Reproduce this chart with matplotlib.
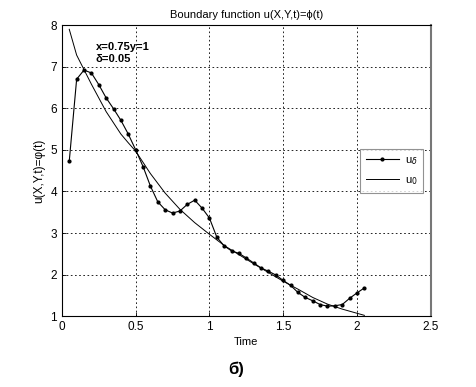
import numpy as np
import matplotlib
matplotlib.use('Agg')
from matplotlib import pyplot as plt

plt.rcParams['font.family'] = ['Liberation Sans', 'DejaVu Sans']

# u_delta: sampled every 0.05 in time
t_delta = [0.05, 0.10, 0.15, 0.20, 0.25, 0.30, 0.35, 0.40, 0.45, 0.50,
           0.55, 0.60, 0.65, 0.70, 0.75, 0.80, 0.85, 0.90, 0.95, 1.00,
           1.05, 1.10, 1.15, 1.20, 1.25, 1.30, 1.35, 1.40, 1.45, 1.50,
           1.55, 1.60, 1.65, 1.70, 1.75, 1.80, 1.85, 1.90, 1.95, 2.00, 2.05]
u_delta = [4.73, 6.70, 6.92, 6.85, 6.57, 6.25, 5.99, 5.71, 5.38, 5.00,
           4.60, 4.13, 3.75, 3.56, 3.48, 3.53, 3.69, 3.79, 3.60, 3.36,
           2.90, 2.69, 2.57, 2.51, 2.40, 2.28, 2.16, 2.08, 1.99, 1.86,
           1.74, 1.57, 1.45, 1.37, 1.28, 1.24, 1.25, 1.28, 1.43, 1.56, 1.68]

# u_0: exact boundary function
t_0 = [0.05, 0.10, 0.15, 0.20, 0.30, 0.40, 0.45, 0.50, 0.55, 0.60, 0.70,
       0.80, 0.90, 1.00, 1.10, 1.20, 1.30, 1.40, 1.50, 1.60, 1.70,
       1.80, 1.90, 2.00, 2.05]
u_0 = [7.90, 7.28, 6.93, 6.58, 5.92, 5.38, 5.17, 4.97, 4.70, 4.43, 3.96,
       3.57, 3.25, 2.97, 2.70, 2.48, 2.26, 2.05, 1.84, 1.65, 1.45,
       1.29, 1.17, 1.07, 1.02]

fig = plt.figure(figsize=(4.76, 3.87), dpi=100)
ax = fig.add_axes([0.130, 0.183, 0.775, 0.752])

ax.plot(t_delta, u_delta, color='black', lw=0.8, marker='.', ms=4, label=r'u$_\delta$')
ax.plot(t_0, u_0, color='black', lw=0.7, label=r'u$_0$')

ax.set_xlim(0, 2.5)
ax.set_ylim(1, 8)
ax.set_xticks([0, 0.5, 1, 1.5, 2, 2.5])
ax.set_xticklabels(['0', '0.5', '1', '1.5', '2', '2.5'])
ax.set_yticks(range(1, 9))
ax.grid(True, color='black', linestyle=(0, (2, 3)), lw=0.6)
ax.tick_params(labelsize=8.5, direction='in', length=3, width=0.6)
for s in ax.spines.values():
    s.set_linewidth(0.8)
ax.spines['right'].set_color('#777777')
ax.spines['right'].set_linewidth(1.5)

ax.set_title('Boundary function u(X,Y,t)=ϕ(t)', fontsize=8, pad=5)
ax.set_xlabel('Time', fontsize=8, labelpad=3)
ax.set_ylabel('u(X,Y,t)=φ(t)', fontsize=8.5, labelpad=4)

ax.text(0.23, 7.48, 'x=0.75y=1', fontsize=8, fontweight='bold', va='center')
ax.text(0.23, 7.19, 'δ=0.05', fontsize=8, fontweight='bold', va='center')

leg = ax.legend(loc='upper right', bbox_to_anchor=(0.98, 0.575), fontsize=8,
                frameon=True, fancybox=False, edgecolor='#777777',
                handlelength=3.0, handletextpad=0.5, borderpad=0.55,
                labelspacing=0.75, borderaxespad=0)
leg.get_frame().set_linewidth(0.8)

fig.text(0.497, 0.033, 'б)', fontsize=12, fontweight='bold', ha='center')

fig.savefig('out.png', dpi=100, facecolor='white')
